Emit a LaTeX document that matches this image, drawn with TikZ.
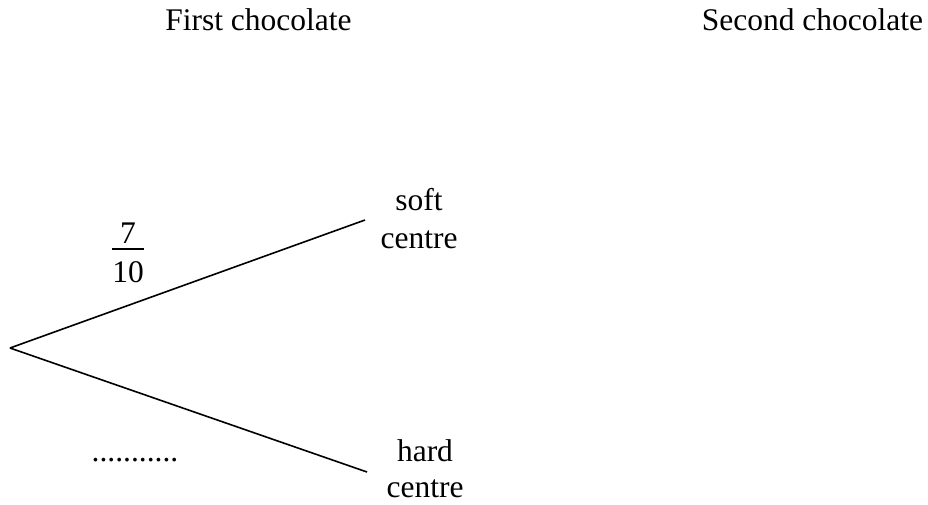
\documentclass[tikz,border=0pt]{standalone}
\usepackage{fontspec}
\setmainfont{Liberation Serif}
\begin{document}
\begin{tikzpicture}[x=1pt,y=-1pt,
  lbl/.style={inner sep=0pt,font=\fontsize{31.5}{37}\selectfont},
  branch/.style={line width=1.6pt},
  barline/.style={line width=1.4pt}]
\useasboundingbox (0,0) rectangle (928,504);
\node[lbl,anchor=base] (t1) at (258.5,30) {First chocolate};
\node[lbl,anchor=base] (t2) at (812.5,30) {Second chocolate};
\coordinate (root) at (10,348);
\coordinate (s) at (365,220);
\coordinate (h) at (367,472);
\draw[branch] (root) -- (s);
\draw[branch] (root) -- (h);
\node[lbl,anchor=base] (soft1) at (419,210) {soft};
\node[lbl,anchor=base] (soft2) at (419,248) {centre};
\node[lbl,anchor=base] (hard1) at (425,461) {hard};
\node[lbl,anchor=base] (hard2) at (425,497) {centre};
\node[lbl,anchor=base] (num) at (128,243) {7};
\node[lbl,anchor=base] (den) at (128,282) {10};
\coordinate (b1) at (112,249);
\coordinate (b2) at (144,249);
\draw[barline] (b1) -- (b2);
\node[lbl,anchor=base] (dots) at (135,461) {...........};
\end{tikzpicture}
\end{document}
